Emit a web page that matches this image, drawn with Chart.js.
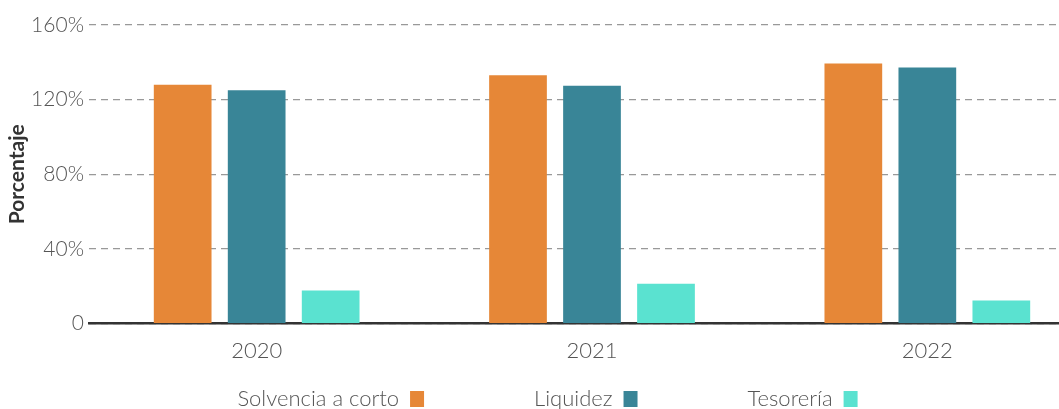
<!DOCTYPE html>
<html>
<head>
<meta charset="utf-8">
<script src="https://cdn.jsdelivr.net/npm/chart.js@4/dist/chart.umd.min.js"></script>
<style>
  html, body { margin: 0; padding: 0; background: #fff; overflow: hidden; }
  #wrap { width: 1095px; height: 409px; }
</style>
</head>
<body>
<div id="wrap"><canvas id="ChartCanvas" width="1095" height="409"></canvas></div>
<script>
var years = ["2020", "2021", "2022"];
var solvencia = [128.0, 133.1, 139.4];
var liquidez = [125.0, 127.5, 137.2];
var tesoreria = [17.8, 21.4, 12.4];
var yTicks = [0, 40, 80, 120, 160];

var ctx = document.getElementById("ChartCanvas").getContext("2d");
var textFont = { family: "Lato", size: 22, weight: "300" };
var legendPadding = 110;

var data =
{
    labels: years,
    datasets:
    [
        { label: "Solvencia a corto", data: solvencia, backgroundColor: "#E68737" },
        { label: "Liquidez", data: liquidez, backgroundColor: "#398597" },
        { label: "Tesorería", data: tesoreria, backgroundColor: "#5AE2D0" }
    ]
};

var config =
{
    type: "bar",
    data: data,
    options:
    {
        responsive: false,
        animation: false,
        layout: { padding: { top: 25, right: 0, left: 0, bottom: 0 } },
        datasets: { bar: { categoryPercentage: 0.662, barPercentage: 0.78 } },
        plugins:
        {
            tooltip: { enabled: false },
            legend:
            {
                position: "bottom",
                rtl: true,     // box on the right of the text
                reverse: true, // keep the original order left to right
                labels:
                {
                    color: "#555",
                    font: textFont,
                    boxWidth: 14,
                    boxHeight: 16,
                    padding: legendPadding
                }
            }
        },
        scales:
        {
            x:
            {
                grid: { display: false },
                border: { display: true, color: "#333", width: 2.5 },
                ticks: { color: "#555", font: textFont, padding: 6 }
            },
            y:
            {
                min: 0,
                max: 160,
                afterBuildTicks: function(axis) { axis.ticks = yTicks.map(function(v) { return { value: v }; }); },
                afterFit: function(axis) { axis.width = 89; },
                border: { display: false, dash: [7, 5] },
                grid: { color: "#999", lineWidth: 1.2, drawTicks: false },
                ticks:
                {
                    color: "#555",
                    font: { family: "Lato", size: 21, weight: "300" },
                    padding: 5,
                    callback: function(value) { return value === 0 ? "0" : value + "%"; }
                },
                title:
                {
                    display: true,
                    text: "Porcentaje",
                    color: "#333",
                    font: { family: "Lato", size: 21, weight: "bold" },
                    padding: { top: 5, bottom: 0 }
                }
            }
        }
    },
    plugins:
    [
        { // wide gaps between legend items without a tall legend box
            id: "legendGap",
            beforeInit: function(chart)
            {
                var fit = chart.legend.fit;
                chart.legend.fit = function()
                {
                    fit.bind(chart.legend)();
                    this.height = 39;
                };
            },
            afterLayout: function(chart)
            {
                chart.legend.top = 388 - legendPadding;
            }
        }
    ]
};

var createdChart = new Chart(ctx, config);
</script>
</body>
</html>
